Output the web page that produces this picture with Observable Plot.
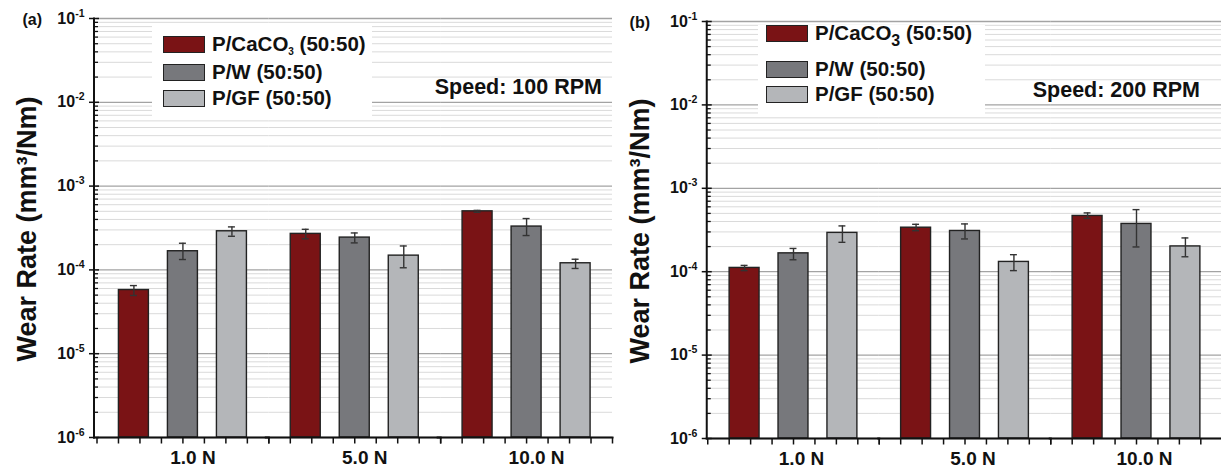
<!DOCTYPE html>
<html><head><meta charset="utf-8">
<script src="https://cdn.jsdelivr.net/npm/d3@7"></script>
<script src="https://cdn.jsdelivr.net/npm/@observablehq/plot@0.6"></script>
<style>
html,body{margin:0;padding:0;background:#fff;overflow:hidden}
#wrap{position:relative;width:1221px;height:471px;font-family:"Liberation Sans",Arial,sans-serif;overflow:hidden}
.panel{position:absolute;top:0;width:612px;height:471px}
.panel svg{position:absolute;left:0;top:0}
.legend{position:absolute;background:#fff;font-weight:bold;font-size:20.5px;color:#111}
.legend .item{position:absolute;display:flex;align-items:center;white-space:nowrap;line-height:20px}
.legend .sw{width:42px;height:17px;border:1.5px solid #222;box-sizing:border-box;margin-right:7px}
</style></head><body><div id="wrap"></div>
<script>
// ---------- data ----------
const forces = ["1.0 N", "5.0 N", "10.0 N"];
const materials = ["P/CaCO3 (50:50)", "P/W (50:50)", "P/GF (50:50)"];
const colors = ["#7a1315", "#77787c", "#b4b6b9"];
const yTickExponents = [-6, -5, -4, -3, -2, -1];

// Speed 100 RPM (panel a)
const caco3_100    = [5.75e-5, 2.69e-4, 5.0e-4];
const caco3_100_lo = [4.95e-5, 2.35e-4, 4.87e-4];
const caco3_100_hi = [6.5e-5, 3.05e-4, 5.13e-4];
const w_100        = [1.67e-4, 2.43e-4, 3.29e-4];
const w_100_lo     = [1.33e-4, 2.1e-4, 2.57e-4];
const w_100_hi     = [2.08e-4, 2.76e-4, 4.1e-4];
const gf_100       = [2.89e-4, 1.48e-4, 1.2e-4];
const gf_100_lo    = [2.52e-4, 1.06e-4, 1.04e-4];
const gf_100_hi    = [3.26e-4, 1.93e-4, 1.34e-4];

// Speed 200 RPM (panel b)
const caco3_200    = [1.11e-4, 3.37e-4, 4.66e-4];
const caco3_200_lo = [1.03e-4, 3.1e-4, 4.36e-4];
const caco3_200_hi = [1.19e-4, 3.7e-4, 5.07e-4];
const w_200        = [1.66e-4, 3.08e-4, 3.74e-4];
const w_200_lo     = [1.39e-4, 2.47e-4, 1.98e-4];
const w_200_hi     = [1.9e-4, 3.74e-4, 5.55e-4];
const gf_200       = [2.92e-4, 1.31e-4, 2.01e-4];
const gf_200_lo    = [2.25e-4, 1.03e-4, 1.51e-4];
const gf_200_hi    = [3.54e-4, 1.6e-4, 2.54e-4];

const yLabel = "Wear Rate (mm³/Nm)";

// ---------- helpers ----------
const FONT = '"Liberation Sans", Arial, sans-serif';
const SVGNS = "http://www.w3.org/2000/svg";

function buildRows(series) {
  const rows = [];
  series.forEach((s, j) => forces.forEach((f, i) => rows.push({
    force: f, material: materials[j], value: s.v[i], lo: s.lo[i], hi: s.hi[i]
  })));
  return rows;
}

function addText(svg, {x, y, text, size, anchor = "middle", rotate = 0}) {
  const t = document.createElementNS(SVGNS, "text");
  t.setAttribute("transform", `translate(${x},${y}) rotate(${rotate})`);
  t.setAttribute("text-anchor", anchor);
  t.setAttribute("dy", "0.35em");
  t.setAttribute("font-size", size);
  t.setAttribute("font-weight", "bold");
  t.setAttribute("font-family", FONT);
  t.setAttribute("fill", "#111");
  t.textContent = text;
  svg.appendChild(t);
}

function makePanel(opt) {
  const rows = buildRows(opt.series);
  const width = 612, height = 471;
  const majors = yTickExponents.map(e => Math.pow(10, e));
  const minors = majors.slice(0, -1).flatMap(m => d3.range(2, 10).map(k => k * m));
  const yMin = majors[0], yMax = majors[majors.length - 1];
  const facetW = (width - opt.marginLeft - opt.marginRight) / forces.length;
  const subTicks = d3.range(-4, 5).map(k => k * facetW / 8);
  const ax = opt.axisDx;

  const marks = [
    Plot.gridY(minors, {stroke: "#dadada", strokeOpacity: 1, strokeWidth: 1}),
    Plot.gridY(majors, {stroke: "#a3a3a3", strokeOpacity: 1, strokeWidth: 1.3}),
    Plot.barY(rows, {fx: "force", x: "material", y1: () => yMin, y2: "value", fill: "material",
      stroke: "#222", strokeWidth: 1.4}),
    Plot.ruleX(rows, {fx: "force", x: "material", y1: "lo", y2: "hi", stroke: "#333", strokeWidth: 1.4}),
    Plot.tickY(rows, {fx: "force", x: "material", y: "lo", stroke: "#333", strokeWidth: 1.4, insetLeft: 11.5, insetRight: 11.5}),
    Plot.tickY(rows, {fx: "force", x: "material", y: "hi", stroke: "#333", strokeWidth: 1.4, insetLeft: 11.5, insetRight: 11.5}),
    Plot.frame({anchor: "bottom", stroke: "#111", strokeWidth: 2, insetLeft: ax}),
    Plot.frame({anchor: "left", facetAnchor: "left", stroke: "#111", strokeWidth: 2, dx: ax}),
    Plot.axisY(minors, {anchor: "left", facetAnchor: "left", tickSize: -4.5, tickFormat: () => "", dx: ax, label: null, stroke: "#111", strokeWidth: 1.3}),
    Plot.axisY(majors, {anchor: "left", facetAnchor: "left", tickSize: -5.5, tickFormat: () => "", dx: ax, label: null, stroke: "#111", strokeWidth: 1.5}),
    Plot.axisY(majors, {anchor: "left", facetAnchor: "left", tickSize: 4.5, tickPadding: 5, dx: ax,
      tickFormat: d => "10^" + Math.round(Math.log10(d)), label: null, stroke: "#111", strokeWidth: 1.5}),
    ...subTicks.map(off => Plot.axisFx({anchor: "bottom", tickSize: 6.5, dx: off, tickFormat: () => "", label: null, stroke: "#111", strokeWidth: 1.5})),
    Plot.axisFx({anchor: "bottom", tickSize: 0, tickPadding: 13, dx: opt.labelDx, label: null})
  ];

  const svg = Plot.plot({
    width, height,
    marginLeft: opt.marginLeft, marginRight: opt.marginRight,
    marginTop: opt.marginTop, marginBottom: height - opt.bottomY,
    style: {fontFamily: FONT, background: "transparent", overflow: "visible"},
    fx: {domain: forces, padding: 0, round: false},
    x: {domain: materials, paddingInner: 0.388, paddingOuter: 0.447, round: false, axis: null},
    y: {type: "log", domain: [yMin, yMax]},
    color: {domain: materials, range: colors},
    marks
  });

  // style axis labels; superscript exponents on the log tick labels
  svg.querySelectorAll("text").forEach(t => {
    const s = t.textContent;
    if (forces.includes(s)) {
      t.style.fontSize = "19px";
      t.style.fontWeight = "bold";
      t.style.fill = "#111";
      return;
    }
    const m = /^10\^(-?\d+)$/.exec(s);
    if (!m) return;
    t.style.fontSize = "16px";
    t.style.fontWeight = "bold";
    t.style.fill = "#111";
    t.textContent = "10";
    const sup = document.createElementNS(SVGNS, "tspan");
    sup.style.fontSize = "10.5px";
    sup.setAttribute("dy", "-7");
    sup.textContent = m[1];
    t.appendChild(sup);
  });

  // annotations: axis title, panel tag, speed
  addText(svg, {x: opt.yLabelX, y: opt.yLabelY, text: yLabel, size: 27, rotate: -90});
  addText(svg, {x: opt.tagRight, y: opt.tagY, text: opt.tag, size: 16, anchor: "end"});
  addText(svg, {x: opt.speedRight, y: opt.speedY, text: opt.speed, size: 21.5, anchor: "end"});

  const div = document.createElement("div");
  div.className = "panel";
  div.style.left = opt.left + "px";
  div.appendChild(svg);

  // legend
  const lg = document.createElement("div");
  lg.className = "legend";
  Object.assign(lg.style, {left: opt.legend.x + "px", top: opt.legend.y + "px",
    width: opt.legend.w + "px", height: opt.legend.h + "px"});
  materials.forEach((m, i) => {
    const it = document.createElement("div");
    it.className = "item";
    it.style.left = opt.legend.swX + "px";
    it.style.top = opt.legend.rows[i] + "px";
    const sw = document.createElement("div");
    sw.className = "sw";
    sw.style.background = colors[i];
    const tx = document.createElement("span");
    tx.innerHTML = m.replace("CaCO3", 'CaCO<sub style="font-size:' + opt.legend.subSize + 'px;vertical-align:' + opt.legend.subDrop + 'px;line-height:0">3</sub>');
    it.appendChild(sw); it.appendChild(tx);
    lg.appendChild(it);
  });
  div.appendChild(lg);
  document.getElementById("wrap").appendChild(div);
}

makePanel({
  left: 0, marginLeft: 96.5, marginRight: 0, marginTop: 18, bottomY: 437, axisDx: -3,
  labelDx: 10, yLabelX: 27, yLabelY: 229, tag: "(a)", tagRight: 42, tagY: 19,
  speed: "Speed: 100 RPM", speedRight: 602, speedY: 86,
  series: [
    {v: caco3_100, lo: caco3_100_lo, hi: caco3_100_hi},
    {v: w_100, lo: w_100_lo, hi: w_100_hi},
    {v: gf_100, lo: gf_100_lo, hi: gf_100_hi}
  ],
  legend: {x: 152, y: 26, w: 220, h: 92, swX: 11, rows: [8, 36, 62], subSize: 10, subDrop: -4}
});

makePanel({
  left: 610, marginLeft: 97.25, marginRight: 0.25, marginTop: 21, bottomY: 438, axisDx: -1,
  labelDx: 8, yLabelX: 30, yLabelY: 231, tag: "(b)", tagRight: 40, tagY: 22,
  speed: "Speed: 200 RPM", speedRight: 590, speedY: 89,
  series: [
    {v: caco3_200, lo: caco3_200_lo, hi: caco3_200_hi},
    {v: w_200, lo: w_200_lo, hi: w_200_hi},
    {v: gf_200, lo: gf_200_lo, hi: gf_200_hi}
  ],
  legend: {x: 148, y: 25, w: 227, h: 91, swX: 8, rows: [-2, 34, 59], subSize: 16, subDrop: -6}
});
</script></body></html>
